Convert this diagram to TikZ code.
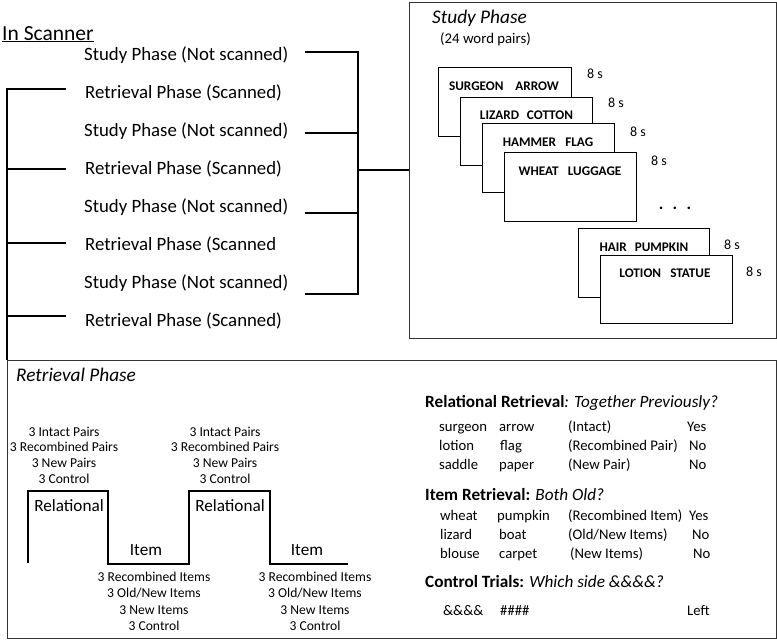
\documentclass[tikz,border=0pt]{standalone}
\usepackage{fontspec}
\setmainfont{Carlito}
\newcommand{\fsz}[1]{\fontsize{#1}{#1}\selectfont}
\tikzset{
  tx/.style={inner sep=0pt, anchor=base west},
  tc/.style={inner sep=0pt, anchor=base},
  lst/.style={tx, font=\fsz{18.8}},
  brk/.style={line width=2.6pt, line cap=butt},
  panel/.style={draw=black!80, line width=0.9pt},
  card/.style={draw=black, line width=0.8pt, fill=white, anchor=north west, inner sep=0pt},
  cardtxt/.style={tc, font=\fsz{13.2}\bfseries},
  secs/.style={tx, font=\fsz{14}},
  small/.style={tc, font=\fsz{13.6}},
  row/.style={tx, font=\fsz{14.7}},
  head/.style={tx, font=\fsz{17.2}},
  big/.style={tc, font=\fsz{17.2}},
}
\begin{document}
\begin{tikzpicture}[x=1pt,y=-1pt]
\useasboundingbox (0,0) rectangle (777,640);
% In scanner list
\node[tx, font=\fsz{21.5}] (insc) at (2,40) {\underline{In Scanner}};
\node[lst] (s1) at (84,60) {Study Phase (Not scanned)};
\node[lst] (r1) at (85,98.5) {Retrieval Phase (Scanned)};
\node[lst] (s2) at (84,136.5) {Study Phase (Not scanned)};
\node[lst] (r2) at (85,174.5) {Retrieval Phase (Scanned)};
\node[lst] (s3) at (84,212.5) {Study Phase (Not scanned)};
\node[lst] (r3) at (85,250.5) {Retrieval Phase (Scanned};
\node[lst] (s4) at (84,288.5) {Study Phase (Not scanned)};
\node[lst] (r4) at (85,326.5) {Retrieval Phase (Scanned)};
% panels
\node[panel, anchor=north west, minimum width=367pt, minimum height=336pt, inner sep=0pt] (study) at (409,2) {};
\node[panel, anchor=north west, minimum width=769pt, minimum height=278pt, inner sep=0pt] (retr) at (7,360) {};
% right bracket
\coordinate (rb1) at (305,52); \coordinate (rb2) at (305,133);
\coordinate (rb3) at (305,213); \coordinate (rb4) at (305,294);
\coordinate (rbm) at (358,170);
\draw[brk, line join=miter] (rb1) -| (358,294) -- (rb4);
\draw[brk] (rb2) -- (358,133);
\draw[brk] (rb3) -- (358,213);
\draw[brk] (rbm) -- (study.west |- rbm);
% left bracket
\coordinate (lb1) at (66,89); \coordinate (lb2) at (66,169);
\coordinate (lb3) at (66,243); \coordinate (lb4) at (66,316);
\draw[brk, line join=miter] (lb1) -| (retr.north west);
\draw[brk] (lb2) -- (7,169);
\draw[brk] (lb3) -- (7,243);
\draw[brk] (lb4) -- (7,316);
% study phase panel
\node[tx, font=\fsz{19.3}\itshape] (sth) at (432,23.5) {Study Phase};
\node[tx, font=\fsz{14.8}] (stp) at (440,43.5) {(24 word pairs)};
\node[card, minimum width=133pt, minimum height=69pt] (c1) at (438,67) {};
\node[cardtxt] (t1) at (504,90.2) {SURGEON\hspace{0.9em}ARROW};
\node[secs] (e1) at (587,78.3) {8 s};
\node[card, minimum width=132pt, minimum height=68pt] (c2) at (460,97) {};
\node[cardtxt] (t2) at (526.5,119.3) {LIZARD\hspace{0.6em}COTTON};
\node[secs] (e2) at (608,107.3) {8 s};
\node[card, minimum width=132pt, minimum height=69pt] (c3) at (482,123) {};
\node[cardtxt] (t3) at (548,146.3) {HAMMER\hspace{0.7em}FLAG};
\node[secs] (e3) at (630,136.7) {8 s};
\node[card, minimum width=132pt, minimum height=69pt] (c4) at (504,152) {};
\node[cardtxt] (t4) at (570,175.3) {WHEAT\hspace{0.7em}LUGGAGE};
\node[secs] (e4) at (651,165.7) {8 s};
\node[tc, font=\fsz{17}\bfseries] (dots) at (675,209) {.\hspace{0.55em}.\hspace{0.55em}.};
\node[card, minimum width=131pt, minimum height=69pt] (c5) at (578,228) {};
\node[cardtxt] (t5) at (644,251) {HAIR\hspace{0.6em}PUMPKIN};
\node[secs] (e5) at (724,249.3) {8 s};
\node[card, minimum width=132pt, minimum height=68pt] (c6) at (600,255) {};
\node[cardtxt] (t6) at (665,277.5) {LOTION\hspace{0.7em}STATUE};
\node[secs] (e6) at (746,276) {8 s};
% retrieval panel
\node[tx, font=\fsz{19.3}\itshape] (rth) at (16,381.7) {Retrieval Phase};
\coordinate (w0) at (28,563); \coordinate (w5) at (348,564);
\draw[line width=2.6pt, line join=miter] (w0) -- (28,491) -- (108,491) -- (108,564) -- (189,564) -- (189,491) -- (270,491) -- (270,564) -- (w5);
\node[big] (rel1) at (69,511.7) {Relational};
\node[big] (rel2) at (230,511.7) {Relational};
\node[big] (it1) at (146,555) {Item};
\node[big] (it2) at (307,555) {Item};
\foreach \cx/\nm in {64/a,225/b}{
  \node[small] (\nm1) at (\cx,436.7) {3 Intact Pairs};
  \node[small] (\nm2) at (\cx,451) {3 Recombined Pairs};
  \node[small] (\nm3) at (\cx,467) {3 New Pairs};
  \node[small] (\nm4) at (\cx,483.5) {3 Control};
}
\foreach \cx/\nm in {154/c,315/d}{
  \node[small] (\nm1) at (\cx,581.7) {3 Recombined Items};
  \node[small] (\nm2) at (\cx,597.7) {3 Old/New Items};
  \node[small] (\nm3) at (\cx,614) {3 New Items};
  \node[small] (\nm4) at (\cx,630.3) {3 Control};
}
% right text
\node[head] (h1) at (425,407) {\textbf{Relational Retrieval}\textit{: Together Previously?}};
\node[row] (a11) at (439,431) {surgeon};
\node[row] (a12) at (499,431) {arrow};
\node[row] (a13) at (568,431) {(Intact)};
\node[row] (a14) at (687,431) {Yes};
\node[row] (a21) at (439,450) {lotion};
\node[row] (a22) at (500,450) {flag};
\node[row] (a23) at (568,450) {(Recombined Pair)};
\node[row] (a24) at (689,450) {No};
\node[row] (a31) at (439,469) {saddle};
\node[row] (a32) at (499,469) {paper};
\node[row] (a33) at (568,469) {(New Pair)};
\node[row] (a34) at (689,469) {No};
\node[head] (h2) at (425,500) {\textbf{Item Retrieval:} \textit{Both Old?}};
\node[row] (b11) at (440,520.7) {wheat};
\node[row] (b12) at (497,520.7) {pumpkin};
\node[row] (b13) at (568,520.7) {(Recombined Item)};
\node[row] (b14) at (689,520.7) {Yes};
\node[row] (b21) at (440,539) {lizard};
\node[row] (b22) at (499,539) {boat};
\node[row] (b23) at (568,539) {(Old/New Items)};
\node[row] (b24) at (692,539) {No};
\node[row] (b31) at (440,558) {blouse};
\node[row] (b32) at (499,558) {carpet};
\node[row] (b33) at (570,558) {(New Items)};
\node[row] (b34) at (693,558) {No};
\node[head] (h3) at (425,587) {\textbf{Control Trials:} \textit{Which side \&\&\&\&?}};
\node[row] (k1) at (443,615) {\&\&\&\&};
\node[row] (k2) at (500,615) {\#\#\#\#};
\node[row] (k3) at (687,615) {Left};
\end{tikzpicture}
\end{document}
